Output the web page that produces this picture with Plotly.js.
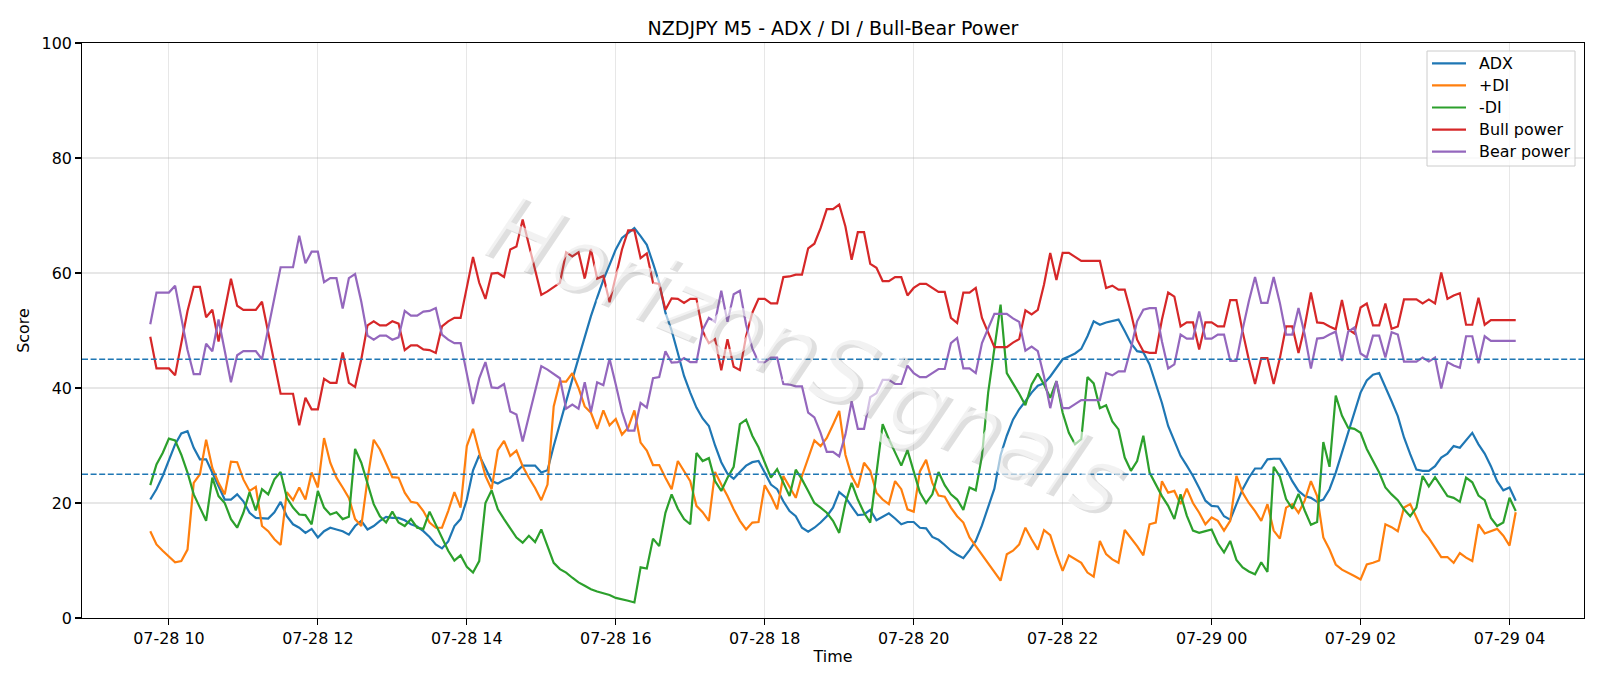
<!DOCTYPE html>
<html>
<head>
<meta charset="utf-8">
<script src="https://cdn.plot.ly/plotly-3.0.1.min.js"></script>
<style>html,body{margin:0;padding:0;background:#fff;}#chart{width:1600px;height:686px;}</style>
</head>
<body>
<div id="chart"></div>
<script>
// 5-minute bars, first bar 2025-07-28 09:45
const START_TIME = '2025-07-28T09:45:00';
const STEP_MINUTES = 5;

const adx = [
20.6,22.4,24.7,27.6,30.2,32.1,32.5,29.6,27.6,27.6,25.3,22.9,20.6,20.6,21.5,20.3,18.3,17.4,17.3,17.3,18.4,20.2,17.7,16.3,15.7,14.8,15.5,14.0,
15.1,15.7,15.4,15.1,14.5,16.0,16.9,15.4,16.0,16.9,17.6,17.4,17.4,17.0,16.3,15.9,15.1,14.1,12.8,12.1,13.3,16.0,17.2,20.6,25.7,28.3,26.1,23.8,23.4,
24.0,24.4,25.5,26.5,26.5,26.5,25.3,25.7,29.9,33.9,37.7,41.5,45.2,49.0,52.5,55.7,58.8,61.4,64.1,66.1,66.9,67.8,66.4,64.9,61.7,58.3,53.1,50.0,
46.1,42.1,39.2,36.6,34.7,33.4,30.0,27.1,25.1,24.2,25.4,26.5,27.1,27.3,25.3,23.2,22.4,20.3,18.6,17.7,15.7,15.0,15.7,16.6,17.7,19.2,21.9,21.0,
19.4,17.9,18.0,18.8,17.0,17.6,18.2,17.3,16.3,16.7,16.7,15.7,15.6,14.1,13.6,12.7,11.7,11.0,10.4,11.8,13.4,16.1,19.3,22.5,28.3,31.7,34.5,36.3,
37.7,39.2,40.4,40.8,42.0,43.5,45.0,45.5,46.0,46.8,49.0,51.6,51.0,51.4,51.6,51.9,49.9,47.8,46.4,46.2,44.1,40.9,37.4,33.4,30.8,28.2,26.5,24.7,
22.6,20.4,19.5,19.4,17.7,17.1,19.8,22.4,24.4,26.0,26.0,27.6,27.7,27.7,25.9,23.8,22.1,21.2,20.9,20.2,20.6,22.4,25.3,28.8,32.2,35.7,39.2,41.3,
42.3,42.6,40.3,37.7,35.1,31.4,28.5,25.8,25.6,25.6,26.4,27.9,28.6,29.9,29.6,30.9,32.2,30.2,28.6,26.4,23.8,22.2,22.7,20.4
];
const plusDI = [
15.1,12.8,11.7,10.7,9.7,9.9,11.9,23.5,25.0,31.0,26.1,23.5,21.5,27.2,27.1,24.1,22.1,22.8,16.0,15.1,13.7,12.7,21.9,20.5,22.7,20.6,25.3,22.7,
31.3,27.0,24.4,22.7,20.9,17.2,16.0,24.1,31.0,29.3,27.0,24.5,24.4,21.8,20.2,20.0,18.6,16.6,15.7,15.7,18.6,21.9,19.2,29.9,32.9,28.7,24.7,22.4,29.2,
30.8,28.2,29.1,26.4,24.4,22.6,20.5,23.2,36.8,41.1,41.1,42.6,40.0,36.8,35.7,32.9,36.1,33.5,34.6,31.9,33.1,36.1,30.5,29.1,26.6,26.6,24.4,22.4,
27.3,25.5,23.8,19.5,18.4,16.9,25.4,23.2,21.2,18.9,16.9,15.4,16.6,16.7,23.1,21.2,18.9,24.7,22.9,20.9,24.7,27.8,30.9,29.9,31.3,33.6,36.0,28.4,
24.7,22.7,27.0,25.6,21.8,20.6,19.8,23.8,22.4,18.9,18.5,25.5,27.5,23.5,21.3,21.1,19.2,17.7,16.6,14.0,12.5,11.1,9.6,8.2,6.5,11.1,11.7,12.8,
15.7,13.7,11.9,15.3,14.4,11.1,8.2,10.9,10.2,9.6,7.9,7.2,13.4,11.1,10.2,9.6,15.3,14.0,12.5,10.9,16.3,16.6,23.8,21.8,22.1,19.8,22.5,20.0,
18.3,16.3,17.5,16.9,15.2,16.9,24.7,21.8,20.0,18.6,16.9,19.8,15.2,13.8,19.2,19.8,18.3,20.4,23.8,21.2,14.0,11.9,9.3,8.4,7.9,7.3,6.7,9.3,
9.6,10.0,16.3,15.8,15.1,19.2,19.8,17.5,15.2,13.9,12.3,10.6,10.6,9.6,11.3,10.5,9.9,16.3,14.7,15.1,15.5,14.3,12.6,18.4
];
const minusDI = [
23.1,26.7,28.7,31.2,30.9,28.4,25.3,21.5,19.2,16.9,24.4,21.2,20.0,17.2,15.7,18.3,21.9,18.7,22.4,21.5,24.1,25.4,20.9,19.2,18.0,17.9,16.3,22.1,
19.2,18.0,18.4,17.2,17.6,29.4,27.0,23.5,19.8,17.7,16.6,18.5,16.6,16.0,17.2,15.7,15.5,18.5,16.3,14.0,11.7,10.0,10.9,8.9,7.9,9.9,20.0,22.2,18.9,
17.2,15.7,14.0,13.1,14.3,13.2,15.4,12.5,9.6,8.5,7.9,7.0,6.2,5.6,5.0,4.6,4.3,4.0,3.5,3.3,3.0,2.7,8.8,8.6,13.8,12.5,18.3,21.5,
19.0,17.2,16.3,28.7,27.3,27.8,23.8,22.1,24.4,26.3,33.7,34.5,31.7,29.7,27.1,24.4,25.9,23.5,21.2,25.8,24.1,22.1,20.0,19.2,18.3,16.9,14.8,20.0,
23.5,20.6,18.3,16.6,25.3,33.7,31.1,28.8,26.5,29.2,25.3,21.8,20.0,21.5,25.4,23.1,21.5,20.6,18.8,22.7,22.2,28.2,39.2,47.3,54.5,42.6,40.9,39.0,
37.0,40.6,42.5,40.6,38.3,41.2,35.7,32.2,30.2,31.1,41.9,40.8,36.5,37.0,34.2,32.8,27.9,25.6,27.3,31.7,25.3,23.2,21.2,19.5,17.2,21.5,17.8,15.2,
14.8,15.1,15.4,13.0,11.4,13.4,10.1,8.8,8.1,7.6,9.7,8.0,26.3,24.6,20.7,19.0,21.6,18.7,16.2,16.7,30.6,26.3,38.7,35.2,33.1,32.9,32.2,29.4,
27.3,25.3,22.7,21.5,20.5,18.9,17.7,19.2,24.7,22.9,24.5,22.9,21.2,20.9,20.2,24.4,23.6,21.3,20.5,17.4,16.0,16.6,20.9,18.6
];
const bullPower = [
48.9,43.4,43.4,43.4,42.2,47.8,53.4,57.6,57.6,52.3,53.6,48.1,53.9,59.0,54.3,53.6,53.6,53.6,55.0,49.6,44.3,39.0,39.0,39.0,33.5,38.3,36.3,36.3,
41.6,40.9,40.9,46.2,40.9,40.2,45.0,50.9,51.6,50.9,50.9,51.6,51.2,46.6,47.4,47.4,46.7,46.6,46.1,50.7,51.6,52.2,52.2,57.4,62.8,58.3,55.5,59.9,60.0,
59.3,64.1,64.6,69.3,64.9,60.7,56.2,56.8,57.6,58.3,63.6,62.9,63.6,59.0,64.2,59.0,59.5,54.9,59.4,64.1,67.4,67.4,62.6,63.4,58.3,58.1,53.6,55.6,
55.5,54.8,55.5,55.5,49.9,47.8,48.5,43.1,48.5,43.7,43.1,49.0,53.1,55.5,55.5,54.7,54.7,59.3,59.4,59.7,59.7,64.3,65.1,67.8,71.1,71.1,71.9,68.1,
62.3,67.1,67.1,61.6,60.9,58.6,58.6,59.3,59.3,56.1,57.4,58.1,58.1,57.4,56.7,56.7,52.2,51.3,56.6,56.6,57.4,52.2,49.6,47.1,47.1,47.1,47.9,48.5,
53.5,52.8,53.6,58.0,63.5,58.8,63.5,63.5,62.8,62.1,62.1,62.1,62.1,57.4,57.8,57.1,57.1,53.1,48.4,46.4,46.1,46.1,51.9,56.6,55.9,50.7,51.4,51.4,
46.7,51.4,51.4,50.7,50.7,55.3,55.3,49.8,44.9,40.7,45.2,45.2,40.7,45.2,50.7,50.7,46.1,50.7,56.6,51.4,51.3,50.7,50.2,55.3,50.2,49.5,54.0,54.7,
50.9,50.9,54.7,50.3,50.7,55.4,55.4,55.4,54.7,55.4,54.7,60.1,55.5,56.1,56.5,51.0,51.0,55.7,51.0,51.8,51.8,51.8,51.8,51.8
];
const bearPower = [
51.1,56.6,56.6,56.6,57.8,52.2,46.6,42.4,42.4,47.7,46.4,51.9,46.1,41.0,45.7,46.4,46.4,46.4,45.0,50.4,55.7,61.0,61.0,61.0,66.5,61.7,63.7,63.7,
58.4,59.1,59.1,53.8,59.1,59.8,55.0,49.1,48.4,49.1,49.1,48.4,48.8,53.4,52.6,52.6,53.3,53.4,53.9,49.3,48.4,47.8,47.8,42.6,37.2,41.7,44.5,40.1,40.0,
40.7,35.9,35.4,30.7,35.1,39.3,43.8,43.2,42.4,41.7,36.4,37.1,36.4,41.0,35.8,41.0,40.5,45.1,40.6,35.9,32.6,32.6,37.4,36.6,41.7,41.9,46.4,44.4,
44.5,45.2,44.5,44.5,50.1,52.2,51.5,56.9,51.5,56.3,56.9,51.0,46.9,44.5,44.5,45.3,45.3,40.7,40.6,40.3,40.3,35.7,34.9,32.2,28.9,28.9,28.1,31.9,
37.7,32.9,32.9,38.4,39.1,41.4,41.4,40.7,40.7,43.9,42.6,41.9,41.9,42.6,43.3,43.3,47.8,48.7,43.4,43.4,42.6,47.8,50.4,52.9,52.9,52.9,52.1,51.5,
46.5,47.2,46.4,42.0,36.5,41.2,36.5,36.5,37.2,37.9,37.9,37.9,37.9,42.6,42.2,42.9,42.9,46.9,51.6,53.6,53.9,53.9,48.1,43.4,44.1,49.3,48.6,48.6,
53.3,48.6,48.6,49.3,49.3,44.7,44.7,50.2,55.1,59.3,54.8,54.8,59.3,54.8,49.3,49.3,53.9,49.3,43.4,48.6,48.7,49.3,49.8,44.7,49.8,50.5,46.0,45.3,
49.1,49.1,45.3,49.7,49.3,44.6,44.6,44.6,45.3,44.6,45.3,39.9,44.5,43.9,43.5,49.0,49.0,44.3,49.0,48.2,48.2,48.2,48.2,48.2
];
const thresholds = [45, 25];
const seriesNames = ['ADX', '+DI', '-DI', 'Bull power', 'Bear power'];
const seriesColors = ['#1f77b4', '#ff7f0e', '#2ca02c', '#d62728', '#9467bd'];
const titleText = 'NZDJPY M5 - ADX / DI / Bull-Bear Power';
const watermarkText = 'HorizonSignals';

function pad(n){return String(n).padStart(2,'0');}
const t0 = new Date(START_TIME + 'Z').getTime();
const times = adx.map((_, i) => {
  const d = new Date(t0 + i * STEP_MINUTES * 60000);
  return d.getUTCFullYear() + '-' + pad(d.getUTCMonth()+1) + '-' + pad(d.getUTCDate()) + ' ' + pad(d.getUTCHours()) + ':' + pad(d.getUTCMinutes());
});

const allSeries = [adx, plusDI, minusDI, bullPower, bearPower];
const traces = allSeries.map((ys, k) => ({
  type: 'scatter', mode: 'lines', x: times, y: ys, name: seriesNames[k],
  line: {color: seriesColors[k], width: 2.2}, showlegend: false
}));

const FONT = 'DejaVu Sans, Verdana, sans-serif';

// Plot-area geometry (pixels) used to place the legend box like matplotlib's
const W = 1600, H = 686, M = {l: 82, r: 16, t: 43, b: 68};
const PW = W - M.l - M.r, PH = H - M.t - M.b;
const px2x = p => (p - M.l) / PW;
const px2y = p => (H - M.b - p) / PH;

const shapes = thresholds.map(v => ({
  type: 'line', xref: 'paper', x0: 0, x1: 1, yref: 'y', y0: v, y1: v,
  line: {color: '#1f77b4', width: 1.5, dash: '6px,2.6px'}, layer: 'above'
}));

// legend (box + samples + labels)
const LEG = {x0: 1427, x1: 1575, y0: 51, y1: 166, lineX0: 1432, lineX1: 1466, textX: 1477, rowY0: 63.3, rowStep: 22.1};
shapes.push({type: 'rect', xref: 'paper', yref: 'paper', layer: 'above',
  x0: px2x(LEG.x0), x1: px2x(LEG.x1), y0: px2y(LEG.y1), y1: px2y(LEG.y0),
  fillcolor: 'rgba(255,255,255,0.8)', line: {color: '#cccccc', width: 1}});
const annotations = [];
seriesNames.forEach((nm, k) => {
  const yy = px2y(LEG.rowY0 + k * LEG.rowStep);
  shapes.push({type: 'line', xref: 'paper', yref: 'paper', layer: 'above',
    x0: px2x(LEG.lineX0), x1: px2x(LEG.lineX1), y0: yy, y1: yy,
    line: {color: seriesColors[k], width: 2.2}});
  annotations.push({text: nm, xref: 'paper', yref: 'paper', x: px2x(LEG.textX), y: yy,
    xanchor: 'left', yanchor: 'middle', showarrow: false,
    font: {family: FONT, size: 15.9, color: '#000'}});
});

// watermark
annotations.unshift(
  {text: watermarkText, xref: 'paper', yref: 'paper', x: 0.484, y: 0.452, showarrow: false,
   textangle: 23, font: {family: FONT, size: 92, style: 'italic', weight: 300, color: 'rgba(110,110,110,0.22)'}},
  {text: watermarkText, xref: 'paper', yref: 'paper', x: 0.481, y: 0.457, showarrow: false,
   textangle: 23, font: {family: FONT, size: 92, style: 'italic', weight: 300, color: 'rgba(255,255,255,0.6)'}}
);

const layout = {
  width: W, height: H,
  paper_bgcolor: '#fff', plot_bgcolor: '#fff',
  margin: M,
  font: {family: FONT, size: 15.9, color: '#000'},
  title: {text: titleText, font: {family: FONT, size: 19, color: '#000'},
          x: 0.5, xref: 'paper', y: 1, yref: 'paper', yanchor: 'bottom', pad: {b: 8}},
  showlegend: false,
  xaxis: {
    type: 'date', range: ['2025-07-28 08:50', '2025-07-29 05:00'],
    tick0: '2025-07-28 00:00', dtick: 7200000, tickformat: '%m-%d %H',
    ticks: 'outside', ticklen: 5.6, tickwidth: 1.2, tickcolor: '#000',
    showline: true, linecolor: '#000', linewidth: 1.3, mirror: true,
    showgrid: true, gridcolor: 'rgba(176,176,176,0.3)', gridwidth: 1.2, zeroline: false,
    tickfont: {family: FONT, size: 15.9, color: '#000'},
    title: {text: 'Time', font: {family: FONT, size: 15.9, color: '#000'}, standoff: 4}
  },
  yaxis: {
    range: [0, 100], dtick: 20, tick0: 0,
    ticks: 'outside', ticklen: 5.6, tickwidth: 1.2, tickcolor: '#000',
    showline: true, linecolor: '#000', linewidth: 1.3, mirror: true,
    showgrid: true, gridcolor: 'rgba(176,176,176,0.3)', gridwidth: 1.2, zeroline: false,
    tickfont: {family: FONT, size: 15.9, color: '#000'},
    title: {text: 'Score', font: {family: FONT, size: 15.9, color: '#000'}, standoff: 8}
  },
  shapes: shapes,
  annotations: annotations
};

Plotly.newPlot('chart', traces, layout, {displayModeBar: false, staticPlot: true});
</script>
</body>
</html>
